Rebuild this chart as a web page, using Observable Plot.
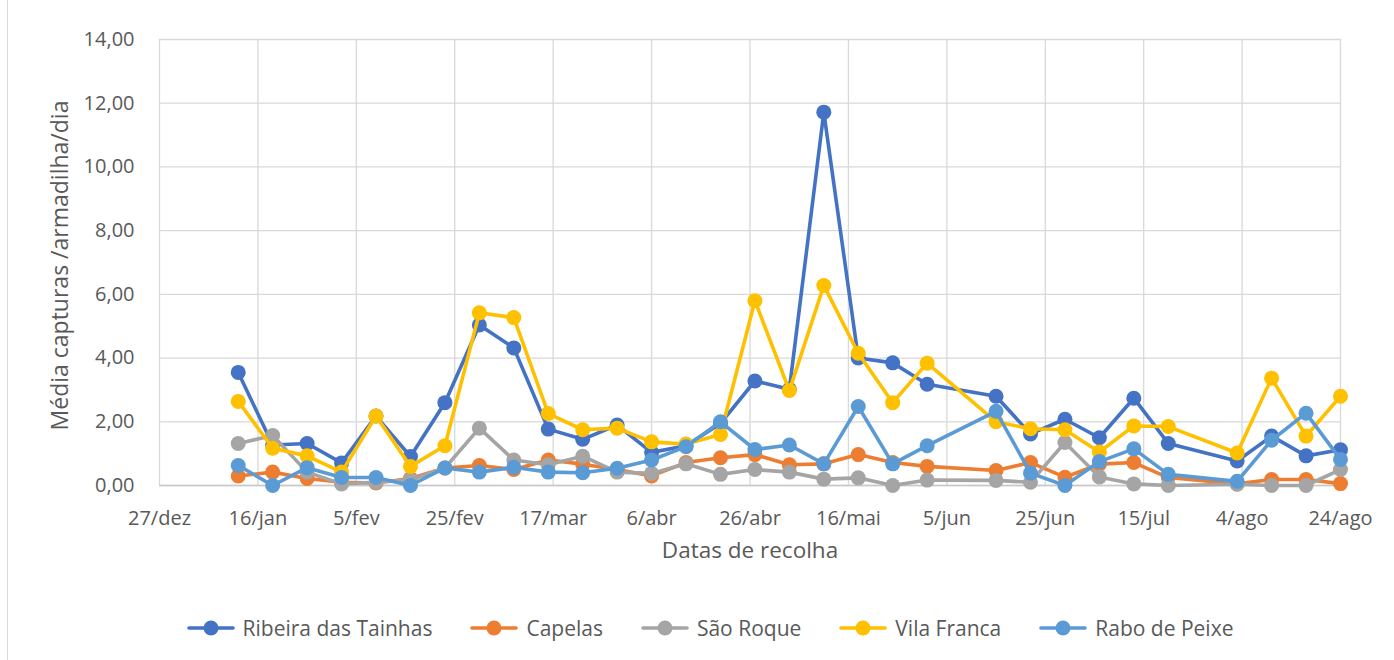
<!DOCTYPE html>
<html>
<head>
<meta charset="utf-8">
<script src="https://cdn.jsdelivr.net/npm/d3@7"></script>
<script src="https://cdn.jsdelivr.net/npm/@observablehq/plot@0.6"></script>
<style>
  html, body { margin: 0; padding: 0; background: #fff; }
  #wrap { position: relative; width: 1394px; height: 660px; overflow: hidden; background: #fff; }
  #frame { position: absolute; left: 7px; top: -2px; width: 1400px; height: 700px; border: 1px solid #d9d9d9; box-sizing: border-box; }
  #chart { position: absolute; left: 0; top: 0; }
  #legend { position: absolute; left: 0; top: 611px; width: 1394px; height: 34px; display: flex; justify-content: center; align-items: center; padding-left: 26px; box-sizing: border-box;
    font-family: 'Open Sans', sans-serif; font-size: 21px; color: #595959; }
  .item { display: flex; align-items: center; margin: 0 19px; }
  .item svg { margin-right: 8px; }
</style>
</head>
<body>
<div id="wrap">
  <div id="frame"></div>
  <div id="chart"></div>
  <div id="legend"></div>
</div>
<script>
const dates = ["2019-01-12","2019-01-19","2019-01-26","2019-02-02","2019-02-09","2019-02-16","2019-02-23","2019-03-02","2019-03-09","2019-03-16","2019-03-23","2019-03-30","2019-04-06","2019-04-13","2019-04-20","2019-04-27","2019-05-04","2019-05-11","2019-05-18","2019-05-25","2019-06-01","2019-06-15","2019-06-22","2019-06-29","2019-07-06","2019-07-13","2019-07-20","2019-08-03","2019-08-10","2019-08-17","2019-08-24"];

const seriesNames = ["Ribeira das Tainhas","Capelas","São Roque","Vila Franca","Rabo de Peixe"];
const seriesColors = ["#4472C4","#ED7D31","#A5A5A5","#FFC000","#5B9BD5"];

const ribeira = [3.55,1.27,1.32,0.71,2.18,0.91,2.6,5.04,4.32,1.77,1.45,1.9,1.04,1.25,1.95,3.28,3.02,11.72,4.0,3.85,3.18,2.8,1.62,2.08,1.5,2.74,1.32,0.77,1.55,0.93,1.12];
const capelas = [0.3,0.42,0.22,0.1,0.08,0.22,0.55,0.63,0.5,0.8,0.67,0.5,0.3,0.72,0.87,0.97,0.65,0.68,0.97,0.72,0.6,0.47,0.72,0.26,0.67,0.72,0.25,0.05,0.19,0.19,0.06];
const saoRoque = [1.32,1.57,0.42,0.05,0.1,0.18,0.55,1.8,0.8,0.65,0.92,0.42,0.38,0.68,0.35,0.5,0.42,0.2,0.24,0.0,0.17,0.16,0.1,1.35,0.27,0.05,0.0,0.04,0.0,0.0,0.5];
const vilaFranca = [2.64,1.17,0.93,0.42,2.18,0.6,1.25,5.42,5.27,2.26,1.75,1.8,1.37,1.3,1.6,5.8,2.98,6.28,4.15,2.6,3.84,2.0,1.78,1.75,1.05,1.87,1.85,1.02,3.37,1.55,2.8];
const raboPeixe = [0.63,0.0,0.56,0.25,0.25,0.0,0.55,0.42,0.57,0.42,0.4,0.54,0.8,1.22,2.0,1.13,1.27,0.68,2.48,0.68,1.25,2.33,0.39,0.0,0.75,1.15,0.35,0.13,1.42,2.27,0.82];

const xTickDates = ["2018-12-27","2019-01-16","2019-02-05","2019-02-25","2019-03-17","2019-04-06","2019-04-26","2019-05-16","2019-06-05","2019-06-25","2019-07-15","2019-08-04","2019-08-24"];
const xTickLabels = ["27/dez","16/jan","5/fev","25/fev","17/mar","6/abr","26/abr","16/mai","5/jun","25/jun","15/jul","4/ago","24/ago"];
const yTicks = [0,2,4,6,8,10,12,14];

const xTitle = "Datas de recolha";
const yTitle = "Média capturas /armadilha/dia";

const seriesValues = [ribeira, capelas, saoRoque, vilaFranca, raboPeixe];
const parse = s => new Date(s + "T00:00:00Z");
const tickDates = xTickDates.map(parse);
const labelMap = new Map(tickDates.map((d, i) => [+d, xTickLabels[i]]));

const seriesMarks = seriesNames.flatMap((name, i) => {
  const rows = dates.map((d, j) => ({date: parse(d), value: seriesValues[i][j], series: name}));
  return [
    Plot.line(rows, {x: "date", y: "value", stroke: seriesColors[i], strokeWidth: 3.6, strokeLinejoin: "round", strokeLinecap: "round"}),
    Plot.dot(rows, {x: "date", y: "value", r: 7.5, fill: seriesColors[i], stroke: "none"})
  ];
});

const chart = Plot.plot({
  width: 1394,
  height: 590,
  marginLeft: 159,
  marginRight: 54,
  marginTop: 39,
  marginBottom: 105,
  style: {fontFamily: "'Open Sans', sans-serif", fontSize: "20px", color: "#595959", background: "transparent", overflow: "visible"},
  x: {type: "utc", domain: [tickDates[0], tickDates[tickDates.length - 1]]},
  y: {domain: [0, 14]},
  marks: [
    Plot.gridY(yTicks, {stroke: "#d9d9d9", strokeOpacity: 1, strokeWidth: 1.3}),
    Plot.gridX(tickDates, {stroke: "#d9d9d9", strokeOpacity: 1, strokeWidth: 1.3}),
    Plot.ruleY([0], {stroke: "#c8c8c8", strokeWidth: 1.5}),
    Plot.axisX(tickDates, {tickSize: 0, tickPadding: 25, tickFormat: d => labelMap.get(+d), fill: "#595959", label: null}),
    Plot.axisY(yTicks, {tickSize: 0, tickPadding: 25, tickFormat: d => d.toFixed(2).replace(".", ","), fill: "#595959", label: null}),
    ...seriesMarks,
    Plot.text([xTitle], {frameAnchor: "bottom", dy: 72, fontSize: 22.5, fill: "#595959"}),
    Plot.text([yTitle], {frameAnchor: "left", textAnchor: "middle", rotate: -90, dx: -99, dy: 3, fontSize: 23, fill: "#595959"})
  ]
});
document.getElementById("chart").appendChild(chart);

const legend = document.getElementById("legend");
seriesNames.forEach((name, i) => {
  const item = document.createElement("div");
  item.className = "item";
  item.innerHTML = `<svg width="48" height="18"><line x1="2" x2="46" y1="9" y2="9" stroke="${seriesColors[i]}" stroke-width="3.6" stroke-linecap="round"/><circle cx="24" cy="9" r="7.5" fill="${seriesColors[i]}"/></svg><span>${name}</span>`;
  legend.appendChild(item);
});
</script>
</body>
</html>
